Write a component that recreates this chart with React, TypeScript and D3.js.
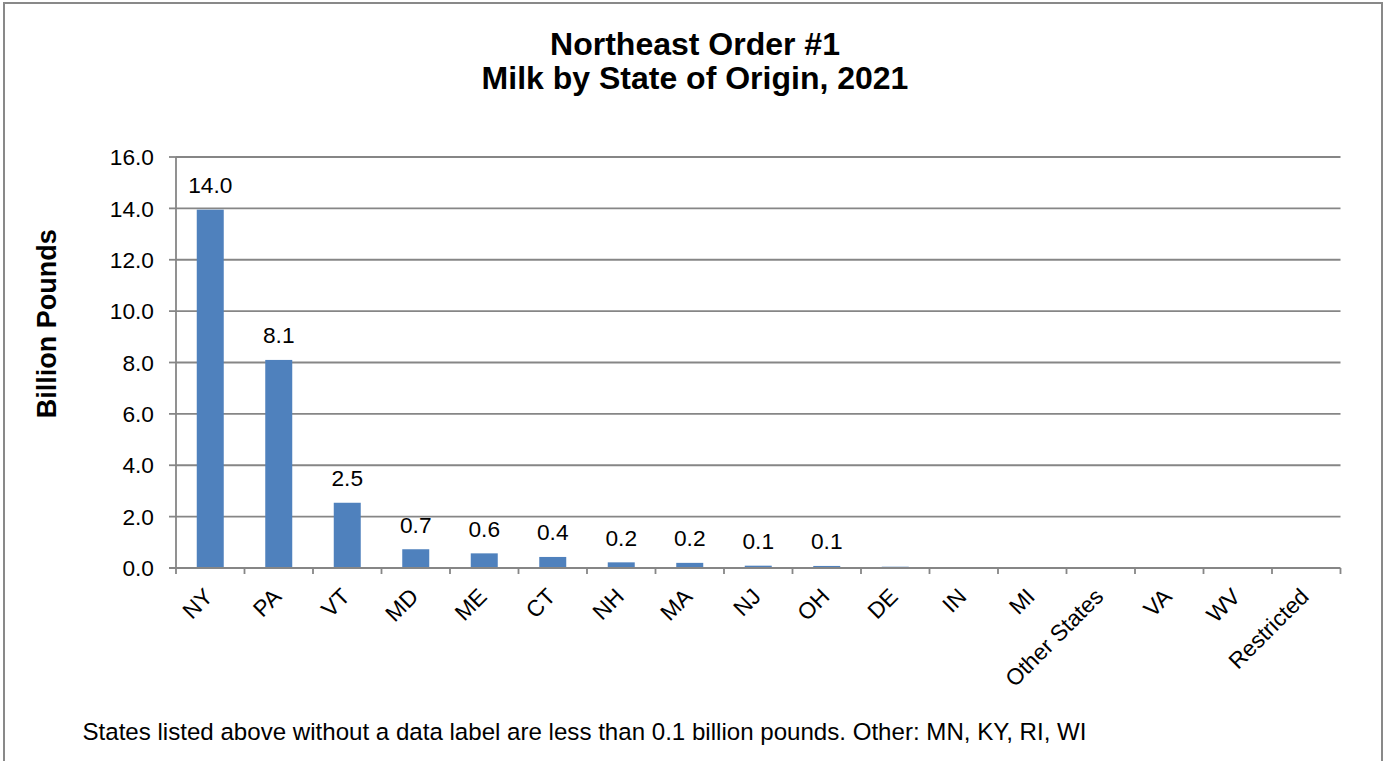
import React from "react";
import * as d3 from "d3";

const categories = ["NY", "PA", "VT", "MD", "ME", "CT", "NH", "MA", "NJ", "OH", "DE", "IN", "MI", "Other States", "VA", "WV", "Restricted"];
const values = [13.95, 8.1, 2.54, 0.73, 0.57, 0.43, 0.22, 0.2, 0.09, 0.08, 0.05, 0.02, 0.01, 0.01, 0.005, 0.003, 0.002];
const dataLabels = ["14.0", "8.1", "2.5", "0.7", "0.6", "0.4", "0.2", "0.2", "0.1", "0.1", "", "", "", "", "", "", ""];
const yTicks = [0, 2, 4, 6, 8, 10, 12, 14, 16];
const titleLines = ["Northeast Order #1", "Milk by State of Origin, 2021"];
const yTitle = "Billion Pounds";
const footnote = "States listed above without a data label are less than 0.1 billion pounds. Other: MN, KY, RI, WI";

const W = 1385;
const H = 761;
const FONT = "'Liberation Sans', Arial, sans-serif";
const GRID = "#868686";
const BAR = "#4F81BD";

export default function App() {
  const plot = { left: 176, right: 1340.5, top: 157, bottom: 568 };
  const x = d3.scaleBand<string>().domain(categories).range([plot.left, plot.right]).padding(0);
  const y = d3.scaleLinear().domain([0, 16]).range([plot.bottom, plot.top]);
  const step = x.step();
  const barW = step * 0.394;

  return (
    <svg width={W} height={H} style={{ position: "absolute", left: 0, top: 0, background: "#fff" }} fontFamily={FONT}>
      <rect x={0} y={0} width={W} height={H} fill="#fff" />
      <rect x={4} y={3} width={1378} height={H + 20} fill="none" stroke="#898989" strokeWidth={2} />
      {titleLines.map((t, i) => (
        <text key={i} x={695} y={55 + i * 34} textAnchor="middle" fontWeight="bold" fontSize={32} fill="#000">
          {t}
        </text>
      ))}
      {yTicks.map((t) => (
        <g key={t}>
          {t > 0 && (
            <line x1={plot.left} x2={plot.right} y1={y(t)} y2={y(t)} stroke={GRID} strokeWidth={1.8} />
          )}
          <line x1={plot.left - 7} x2={plot.left} y1={y(t)} y2={y(t)} stroke={GRID} strokeWidth={1.8} />
          <text x={154} y={y(t)} dy="0.36em" textAnchor="end" fontSize={22.7} fill="#000">
            {d3.format(".1f")(t)}
          </text>
        </g>
      ))}
      {categories.map((c, i) => {
        const cx = (x(c) as number) + step / 2;
        const yv = y(values[i]);
        return (
          <g key={c}>
            <rect x={cx - barW / 2} y={yv} width={barW} height={plot.bottom - yv} fill={BAR} />
            {dataLabels[i] && (
              <text x={cx} y={yv - 16.5} textAnchor="middle" fontSize={22.7} fill="#000">
                {dataLabels[i]}
              </text>
            )}
          </g>
        );
      })}
      <line x1={plot.left} x2={plot.left} y1={plot.top} y2={plot.bottom} stroke={GRID} strokeWidth={1.8} />
      <line x1={plot.left - 7} x2={plot.right} y1={plot.bottom} y2={plot.bottom} stroke={GRID} strokeWidth={1.8} />
      {d3.range(categories.length + 1).map((i) => (
        <line key={i} x1={plot.left + i * step} x2={plot.left + i * step} y1={plot.bottom} y2={plot.bottom + 6} stroke={GRID} strokeWidth={1.8} />
      ))}
      {categories.map((c) => {
        const cx = (x(c) as number) + step / 2;
        return (
          <text key={c} transform={`translate(${cx + 4},${598}) rotate(-45)`} textAnchor="end" fontSize={22.7} fill="#000">
            {c}
          </text>
        );
      })}
      <text transform={`translate(56,${323.7}) rotate(-90)`} textAnchor="middle" fontWeight="bold" fontSize={27} fill="#000">
        {yTitle}
      </text>
      <text x={82.5} y={740} fontSize={24.1} fill="#000">
        {footnote}
      </text>
    </svg>
  );
}
